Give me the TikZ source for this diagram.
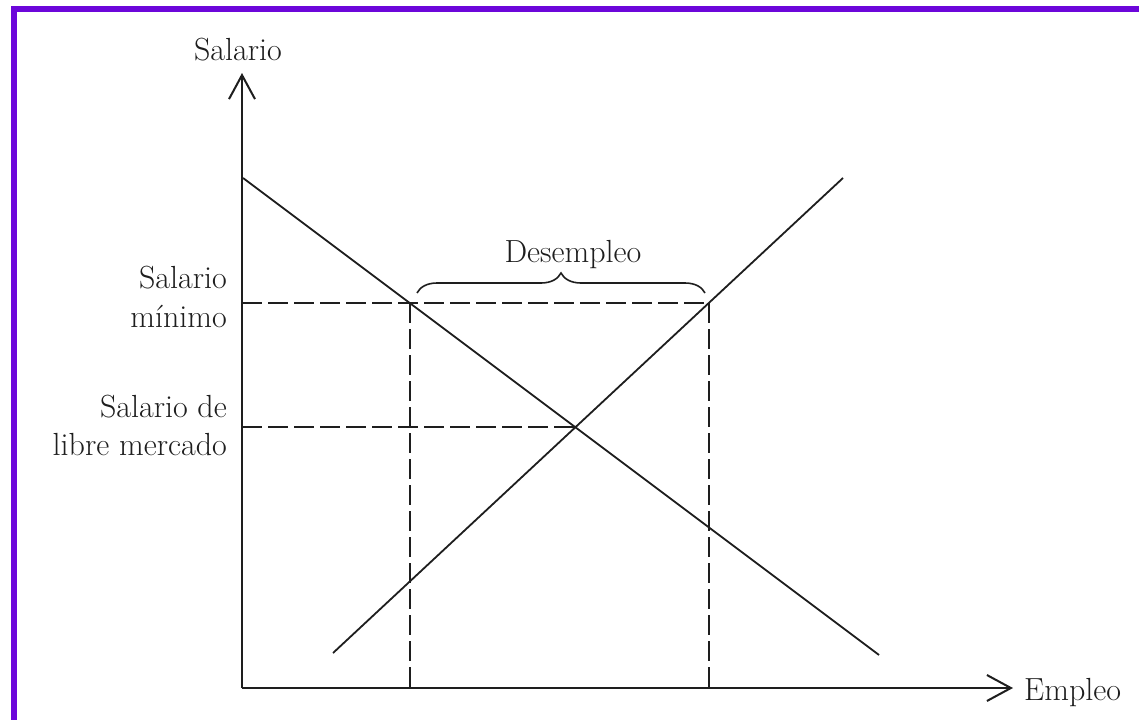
\documentclass[tikz,border=0pt]{standalone}
\usetikzlibrary{arrows.meta,decorations.pathreplacing}
\definecolor{framepurple}{RGB}{108,6,218}
\definecolor{ink}{RGB}{30,30,30}
\begin{document}
\begin{tikzpicture}[x=1pt,y=-1pt,
  axis/.style={draw=ink,line width=2.2pt,-{Straight Barb[length=24pt,width=26pt,line width=2pt]}},
  curve/.style={draw=ink,line width=1.8pt},
  guide/.style={draw=ink,line width=2pt,dash pattern=on 20pt off 6pt},
  lbl/.style={text=ink,font=\fontsize{32}{39}\selectfont,inner sep=0pt}]
\useasboundingbox (0,0) rectangle (1139,720);
\fill[white] (0,0) rectangle (1139,720);
% frame (top and left sides visible)
\fill[framepurple] (11,6) rectangle (1139,12);
\fill[framepurple] (11,6) rectangle (17,720);
% key points
\coordinate (O) at (242,688);
\coordinate (ytop) at (242,73);
\coordinate (xend) at (1013,688);
\coordinate (D1) at (243,178);
\coordinate (D2) at (879,655);
\coordinate (S1) at (333,653);
\coordinate (S2) at (843,178);
\coordinate (A) at (410,303);
\coordinate (B) at (709,303);
\coordinate (E) at (575,427);
\coordinate (Ymin) at (242,303);
\coordinate (Ylm) at (242,427);
\coordinate (Ax) at (410,688);
\coordinate (Bx) at (709,688);
\coordinate (br1) at (417,293);
\coordinate (br2) at (705,293);
% guides
\draw[guide] (Ymin) -- (B);
\draw[guide] (Ylm) -- (E);
\draw[guide] (A) -- (Ax);
\draw[guide] (B) -- (Bx);
% curves
\draw[curve] (D1) -- (D2);
\draw[curve] (S1) -- (S2);
% axes
\draw[axis] (O) -- (ytop);
\draw[axis] (O) -- (xend);
% brace
\draw[ink,line width=1.6pt,decorate,decoration={brace,amplitude=20pt,aspect=0.5}] (br1) -- (br2);
% labels
\node[lbl,anchor=base] (ylabel) at (238,60) {Salario};
\node[lbl,anchor=base west] (xlabel) at (1024,700) {Empleo};
\node[lbl,anchor=base] (desempleo) at (573,262) {Desempleo};
\node[lbl,anchor=base east] (smin1) at (227,288) {Salario};
\node[lbl,anchor=base east] (smin2) at (227,327) {mínimo};
\node[lbl,anchor=base east] (slm1) at (227,417) {Salario de};
\node[lbl,anchor=base east] (slm2) at (227,455) {libre mercado};
\end{tikzpicture}
\end{document}
